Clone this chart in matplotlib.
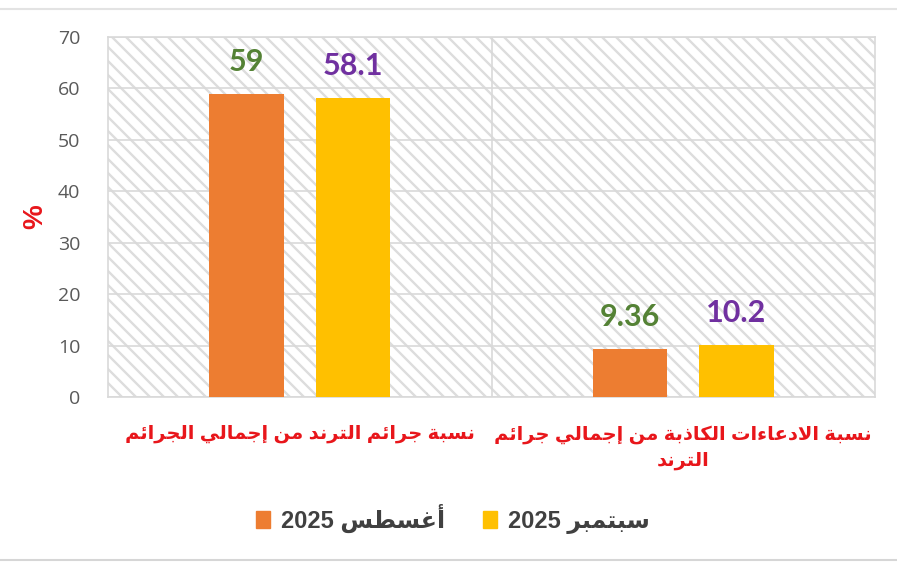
import matplotlib
matplotlib.use("Agg")
import matplotlib.pyplot as plt
from matplotlib.patches import Patch
from matplotlib.lines import Line2D
from matplotlib.collections import LineCollection
import numpy as np

# data
categories = ["نسبة جرائم الترند من إجمالي الجرائم",
              "نسبة الادعاءات الكاذبة من إجمالي جرائم\nالترند"]
series_names = ["أغسطس 2025", "سبتمبر 2025"]
august = [59, 9.36]
september = [58.1, 10.2]
y_ticks = [0, 10, 20, 30, 40, 50, 60, 70]

COLORS = {
    'orange': '#ED7D31',
    'yellow': '#FFC000',
    'green': '#548235',
    'purple': '#7030A0',
    'red': '#E8161B',
    'grid': '#D9D9D9',
    'hatch': '#DDDDDD',
    'tick': '#595959',
    'legend': '#404040',
}

# --- minimal Arabic shaping (matplotlib has no complex text layout) ---
# char: (isolated, final, initial, medial)
FORMS = {
    'ء': (0xFE80, None, None, None),
    'آ': (0xFE81, 0xFE82, None, None),
    'أ': (0xFE83, 0xFE84, None, None),
    'ؤ': (0xFE85, 0xFE86, None, None),
    'إ': (0xFE87, 0xFE88, None, None),
    'ئ': (0xFE89, 0xFE8A, 0xFE8B, 0xFE8C),
    'ا': (0xFE8D, 0xFE8E, None, None),
    'ب': (0xFE8F, 0xFE90, 0xFE91, 0xFE92),
    'ة': (0xFE93, 0xFE94, None, None),
    'ت': (0xFE95, 0xFE96, 0xFE97, 0xFE98),
    'ث': (0xFE99, 0xFE9A, 0xFE9B, 0xFE9C),
    'ج': (0xFE9D, 0xFE9E, 0xFE9F, 0xFEA0),
    'ح': (0xFEA1, 0xFEA2, 0xFEA3, 0xFEA4),
    'خ': (0xFEA5, 0xFEA6, 0xFEA7, 0xFEA8),
    'د': (0xFEA9, 0xFEAA, None, None),
    'ذ': (0xFEAB, 0xFEAC, None, None),
    'ر': (0xFEAD, 0xFEAE, None, None),
    'ز': (0xFEAF, 0xFEB0, None, None),
    'س': (0xFEB1, 0xFEB2, 0xFEB3, 0xFEB4),
    'ش': (0xFEB5, 0xFEB6, 0xFEB7, 0xFEB8),
    'ص': (0xFEB9, 0xFEBA, 0xFEBB, 0xFEBC),
    'ض': (0xFEBD, 0xFEBE, 0xFEBF, 0xFEC0),
    'ط': (0xFEC1, 0xFEC2, 0xFEC3, 0xFEC4),
    'ظ': (0xFEC5, 0xFEC6, 0xFEC7, 0xFEC8),
    'ع': (0xFEC9, 0xFECA, 0xFECB, 0xFECC),
    'غ': (0xFECD, 0xFECE, 0xFECF, 0xFED0),
    'ف': (0xFED1, 0xFED2, 0xFED3, 0xFED4),
    'ق': (0xFED5, 0xFED6, 0xFED7, 0xFED8),
    'ك': (0xFED9, 0xFEDA, 0xFEDB, 0xFEDC),
    'ل': (0xFEDD, 0xFEDE, 0xFEDF, 0xFEE0),
    'م': (0xFEE1, 0xFEE2, 0xFEE3, 0xFEE4),
    'ن': (0xFEE5, 0xFEE6, 0xFEE7, 0xFEE8),
    'ه': (0xFEE9, 0xFEEA, 0xFEEB, 0xFEEC),
    'و': (0xFEED, 0xFEEE, None, None),
    'ى': (0xFEEF, 0xFEF0, None, None),
    'ي': (0xFEF1, 0xFEF2, 0xFEF3, 0xFEF4),
}
LAM_ALEF = {'ا': (0xFEFB, 0xFEFC), 'أ': (0xFEF7, 0xFEF8),
            'إ': (0xFEF9, 0xFEFA), 'آ': (0xFEF5, 0xFEF6)}


def shape_word(word):
    out = []
    i = 0
    prev_joins = False
    while i < len(word):
        c = word[i]
        if c not in FORMS:
            out.append(c)
            prev_joins = False
            i += 1
            continue
        nxt = word[i + 1] if i + 1 < len(word) else None
        if c == 'ل' and nxt in LAM_ALEF:
            iso, fin = LAM_ALEF[nxt]
            out.append(chr(fin if prev_joins else iso))
            prev_joins = False
            i += 2
            continue
        iso, fin, ini, med = FORMS[c]
        can_next = ini is not None and nxt in FORMS and FORMS[nxt][1] is not None
        if prev_joins and can_next:
            g = med
        elif prev_joins:
            g = fin
        elif can_next:
            g = ini
        else:
            g = iso
        out.append(chr(g))
        prev_joins = ini is not None
        i += 1
    return ''.join(out)


def rtl(text):
    lines = []
    for line in text.split('\n'):
        vis = []
        for w in reversed(line.split(' ')):
            if any(ch in FORMS for ch in w):
                vis.append(shape_word(w)[::-1])
            else:
                vis.append(w)
        lines.append(' '.join(vis))
    return '\n'.join(lines)


FONT = ['Liberation Sans', 'DejaVu Sans']
plt.rcParams['font.family'] = FONT

W, H = 897, 583
fig = plt.figure(figsize=(W / 100, H / 100), dpi=100)
fig.patch.set_facecolor('white')

left, right, top, bottom = 108, 875, 37, 397
aw, ah = right - left, bottom - top
ax = fig.add_axes([left / W, 1 - bottom / H, aw / W, ah / H])

# diagonal hatch background (pixel spacing ~14 px, 45 degrees)
segs = []
for px in np.arange(-ah, aw, 14):
    segs.append([(px / aw, 1.0), ((px + ah) / aw, 0.0)])
hatch = LineCollection(segs, colors=COLORS['hatch'], linewidths=1.7,
                       transform=ax.transAxes, zorder=0)
ax.add_collection(hatch)

x = np.arange(len(categories))
width = 0.195
off = 0.139
b1 = ax.bar(x - off, august, width, color=COLORS['orange'], zorder=3)
b2 = ax.bar(x + off, september, width, color=COLORS['yellow'], zorder=3)

for bars, vals, col in [(b1, august, COLORS['green']), (b2, september, COLORS['purple'])]:
    for rect, v in zip(bars, vals):
        ax.annotate(f'{v:g}', (rect.get_x() + rect.get_width() / 2, v),
                    xytext=(0, 23), textcoords='offset points', ha='center', va='center',
                    fontsize=22, fontweight='bold', color=col, family=['Lato', 'DejaVu Sans'])

ax.set_xlim(-0.5, 1.5)
ax.set_ylim(0, 70)
ax.set_yticks(y_ticks)
ax.set_yticklabels([str(t) for t in y_ticks], fontsize=14, color=COLORS['tick'],
                   family=['Open Sans', 'DejaVu Sans'])
ax.yaxis.grid(True, color=COLORS['grid'], lw=1.2, zorder=1)
ax.set_axisbelow(True)
ax.axvline(0.5, color=COLORS['grid'], lw=1.2, zorder=1)
ax.tick_params(axis='x', length=0, pad=20)
ax.tick_params(axis='y', length=0, pad=20)

ax.set_xticks(x)
ax.set_xticklabels([rtl(c) for c in categories], fontsize=14, fontweight='bold',
                   color=COLORS['red'], linespacing=1.55)

for s in ax.spines.values():
    s.set_color(COLORS['grid'])
    s.set_linewidth(1.2)

fig.text(35 / W, 1 - 217 / H, '%', rotation=90, ha='center', va='center',
         fontsize=20, fontweight='bold', color=COLORS['red'])

# legend
handles = [Patch(color=COLORS['orange']), Patch(color=COLORS['yellow'])]
leg = fig.legend(handles, [rtl(n) for n in series_names], loc='center',
                 bbox_to_anchor=(453 / W, 1 - 519 / H), ncol=2, frameon=False,
                 handlelength=0.6, handleheight=0.7, handletextpad=0.45, columnspacing=1.6,
                 prop={'size': 17, 'weight': 'bold'})
for t in leg.get_texts():
    t.set_color(COLORS['legend'])

# chart frame lines
fig.add_artist(Line2D([0, 1], [1 - 9 / H, 1 - 9 / H], color='#E3E3E3', lw=1.5))
fig.add_artist(Line2D([0, 1], [1 - 560 / H, 1 - 560 / H], color='#D6D6D6', lw=1.5))

fig.savefig('out.png', dpi=100, facecolor='white')
